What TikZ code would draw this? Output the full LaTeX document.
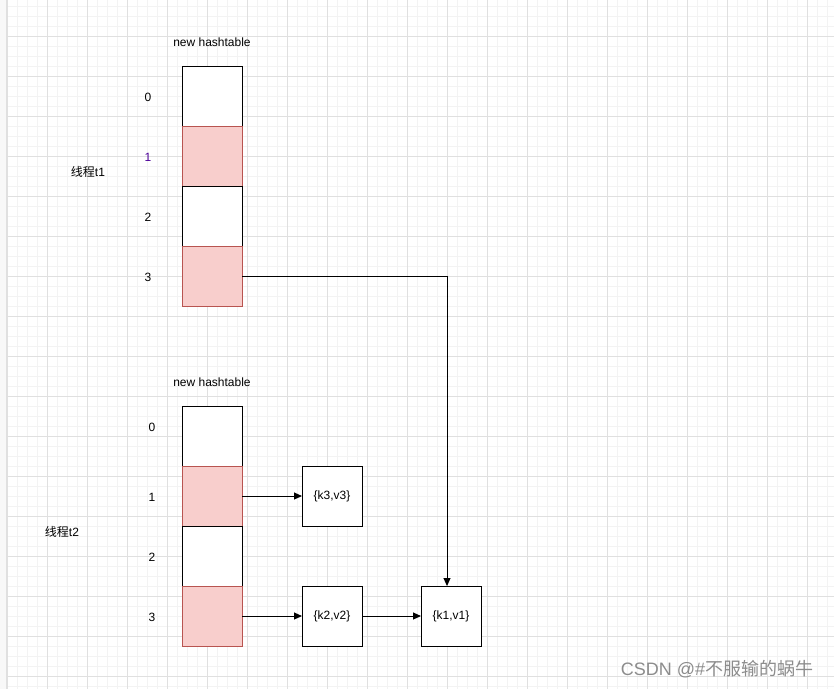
\documentclass[tikz,border=0pt]{standalone}
\usepackage{fontspec}
\setmainfont{Liberation Sans}
\newfontfamily\cjk{Noto Sans CJK SC}
\usetikzlibrary{arrows.meta}
\definecolor{redfill}{HTML}{F8CECC}
\definecolor{redline}{HTML}{B85450}
\definecolor{minorgrid}{HTML}{F3F3F3}
\definecolor{majorgrid}{HTML}{E0E0E0}
\definecolor{idxpurple}{HTML}{4C0099}
\tikzset{
  cell/.style={draw=black, fill=white, line width=1pt, minimum width=60pt, minimum height=60pt, inner sep=0pt, outer sep=0pt},
  redcell/.style={cell, draw=redline, fill=redfill},
  lbl/.style={inner sep=0pt, font=\fontsize{12}{14}\selectfont},
  conn/.style={line width=1pt, -{Triangle[length=8pt,width=7pt]}},
}
\begin{document}
\begin{tikzpicture}[x=1pt,y=-1pt]
\useasboundingbox (0,0) rectangle (834,689);
% grid
\fill[white] (0,0) rectangle (834,689);
\fill[minorgrid!60] (0,0) rectangle (6,689);
\foreach \i in {0,...,83} {\draw[minorgrid,line width=0.8pt] (7+10*\i,0) -- (7+10*\i,689);}
\foreach \i in {0,...,69} {\draw[minorgrid,line width=0.8pt] (7,6+10*\i) -- (834,6+10*\i);}
\foreach \i in {0,...,20} {\draw[majorgrid,line width=0.8pt] (7+40*\i,0) -- (7+40*\i,689);}
\foreach \i in {0,...,17} {\draw[majorgrid,line width=0.8pt] (7,36+40*\i) -- (834,36+40*\i);}
\draw[majorgrid,line width=1pt] (6.5,0) -- (6.5,689);

% top table
\node[lbl] (ht1) at (212,42) {new hashtable};
\node[cell]    (a0) at (212,96) {};
\node[redcell] (a1) at (212,156) {};
\node[cell]    (a2) at (212,216) {};
\node[redcell] (a3) at (212,276) {};
\node[lbl] (ai0) at (148,97) {0};
\node[lbl,text=idxpurple] (ai1) at (148,157) {1};
\node[lbl] (ai2) at (148,217) {2};
\node[lbl] (ai3) at (148,277) {3};
\node[lbl] (t1) at (88,172) {{\cjk 线程}t1};

% bottom table
\node[lbl] (ht2) at (212,382) {new hashtable};
\node[cell]    (b0) at (212,436) {};
\node[redcell] (b1) at (212,496) {};
\node[cell]    (b2) at (212,556) {};
\node[redcell] (b3) at (212,616) {};
\node[lbl] (bi0) at (152,427) {0};
\node[lbl] (bi1) at (152,497) {1};
\node[lbl] (bi2) at (152,557) {2};
\node[lbl] (bi3) at (152,617) {3};
\node[lbl] (t2) at (62,532) {{\cjk 线程}t2};

% entries
\node[cell,font=\fontsize{12}{14}\selectfont] (k3) at (332,496) {\{k3,v3\}};
\node[cell,font=\fontsize{12}{14}\selectfont] (k2) at (332,616) {\{k2,v2\}};
\node[cell,font=\fontsize{12}{14}\selectfont] (k1) at (451,616) {\{k1,v1\}};

% connectors
\draw[conn] (b1.east) -- (k3.west);
\draw[conn] (b3.east) -- (k2.west);
\draw[conn] (k2.east) -- (k1.west);
\coordinate (bend) at (447,276);
\draw[conn] (a3.east) -- (bend) -- (k1.north -| bend);

% watermark
\node[lbl,text=black!45,font=\fontsize{18}{20}\selectfont] (wm) at (717,669) {CSDN @\#{\cjk 不服输的蜗牛}};
\end{tikzpicture}
\end{document}
